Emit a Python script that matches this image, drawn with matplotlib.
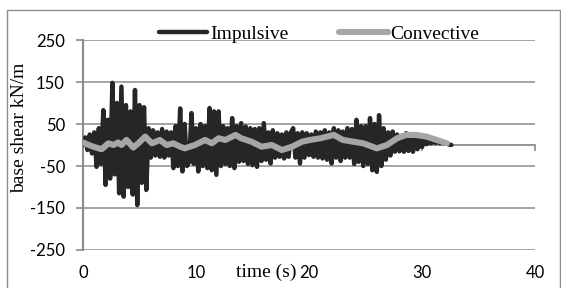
import numpy as np
import matplotlib
matplotlib.use("Agg")
import matplotlib.pyplot as plt
from matplotlib.patches import Rectangle

plt.rcParams['axes.unicode_minus'] = False

# impulsive base shear, sampled every 0.2 s (kN/m)
dt_imp = 0.2
impulsive = [0, 18, -12, 25, -20, 30, -52, 40, -45, 83,
             -95, 60, -80, 148, -70, 100, -115, 139, -123, 95,
             -100, 80, -118, 131, -143, 95, -90, 90, -107, 40,
             -30, 35, -25, 30, -28, 38, -30, 32, -25, 30,
             -55, 45, -50, 87, -63, 50, -50, -40, 76, -45,
             40, -63, 50, -50, 45, -55, 88, -60, 80, -71,
             80, -50, 45, -45, 40, -50, 64, -55, 45, -40,
             52, -38, 44, -45, 40, -48, 38, -52, 40, -38,
             52, -35, 30, -44, 35, -30, 28, -28, 25, -32,
             30, -28, 30, 40, -30, 28, -44, 30, -30, 28,
             -24, 25, -28, 32, -30, 30, -32, 35, -35, 30,
             -44, 40, -30, 35, -38, 32, -30, 40, -30, 38,
             -45, 60, -40, 45, -50, 45, -45, 64, -60, 50,
             -64, 71, -50, 40, -35, 30, -25, 32, -16, 25,
             -15, 22, -16, 28, -14, 20, -16, 15, -10, 14,
             -5, 12, 2, 10, 4, 10, 5, 8, 4, 6,
             3, 4, 1, 0]

# convective base shear (kN/m)
conv_t = [0, 0.33, 0.9, 1.65, 2.25, 2.7, 3.1, 3.4, 3.85, 4.45,
          4.9, 5.5, 6.1, 6.8, 7.4, 8.0, 8.6, 9.0, 9.9, 10.8,
          11.4, 12.0, 12.6, 13.5, 14.0, 14.9, 15.8, 16.7, 17.6, 18.5,
          19.4, 20.1, 21.0, 22.2, 23.0, 23.9, 24.8, 26.0, 26.9, 27.8,
          28.6, 29.5, 30.4, 31.3, 32.2]
convective = [6, 2, -4, -10, 4, 0, 6, 0, 12, -6,
              4, 20, 4, 12, 0, 4, -4, -8, 0, 12,
              4, 16, 12, 24, 16, 8, -4, 0, -12, -4,
              8, 12, 16, 24, 12, 8, 4, -8, 0, 16,
              24, 24, 20, 12, 4]

xticks = [0, 10, 20, 30, 40]
yticks = [-250, -150, -50, 50, 150, 250]

grey = '#8c8c8c'
serif = 'Liberation Serif'
sans = 'Lato'

t_imp = np.arange(len(impulsive)) * dt_imp

fig = plt.figure(figsize=(5.61, 2.88), dpi=100)
ax = fig.add_axes([83/561, 1 - 250/288, (535 - 83)/561, (250 - 40)/288])

ax.plot(t_imp, impulsive, color='#262626', lw=3.2, label='Impulsive',
        solid_joinstyle='round', solid_capstyle='round', zorder=3)
ax.plot(conv_t, convective, color='#a6a6a6', lw=4.4, label='Convective',
        solid_joinstyle='round', solid_capstyle='round', zorder=4)

ax.set_xlim(0, 40)
ax.set_ylim(-250, 250)
ax.set_yticks(yticks)
ax.set_xticks(xticks)
ax.yaxis.grid(True, color=grey, lw=1.1)
ax.set_axisbelow(True)

for s in ['top', 'right']:
    ax.spines[s].set_visible(False)
ax.spines['left'].set_color(grey)
ax.spines['left'].set_linewidth(1.5)
ax.spines['bottom'].set_position(('data', 0))
ax.spines['bottom'].set_color(grey)
ax.spines['bottom'].set_linewidth(1.3)

ax.tick_params(axis='x', direction='out', length=4, width=1.2, color=grey,
               labelbottom=False)
ax.tick_params(axis='y', direction='out', length=5, width=1.2, color=grey,
               pad=8)
for lab in ax.get_yticklabels():
    lab.set_fontfamily(sans)
    lab.set_fontsize(12)

# x tick labels sit at the bottom of the plot, not on the zero line
sec = ax.secondary_xaxis('bottom')
sec.set_xticks(xticks)
sec.spines['bottom'].set_visible(False)
sec.tick_params(length=0, pad=11)
for lab in sec.get_xticklabels():
    lab.set_fontfamily(sans)
    lab.set_fontsize(12)

fig.text(266/561, 1 - 272/288, 'time (s)', family=serif, fontsize=14,
         ha='center', va='center')
fig.text(20/561, 1 - 128/288, 'base shear kN/m', family=serif, fontsize=14,
         ha='center', va='center', rotation=90)

fig.legend(loc='center', bbox_to_anchor=(319/561, 1 - 34/288), ncol=2,
           frameon=False, prop={'family': serif, 'size': 14},
           handlelength=2.5, handletextpad=0.15, columnspacing=2.6,
           borderpad=0, borderaxespad=0)

fig.patches.append(Rectangle((7/561, -0.1), (560 - 7)/561, 1.1 - 10/288,
                             transform=fig.transFigure, fill=False,
                             ec=grey, lw=1))

fig.savefig('out.png', dpi=100)
